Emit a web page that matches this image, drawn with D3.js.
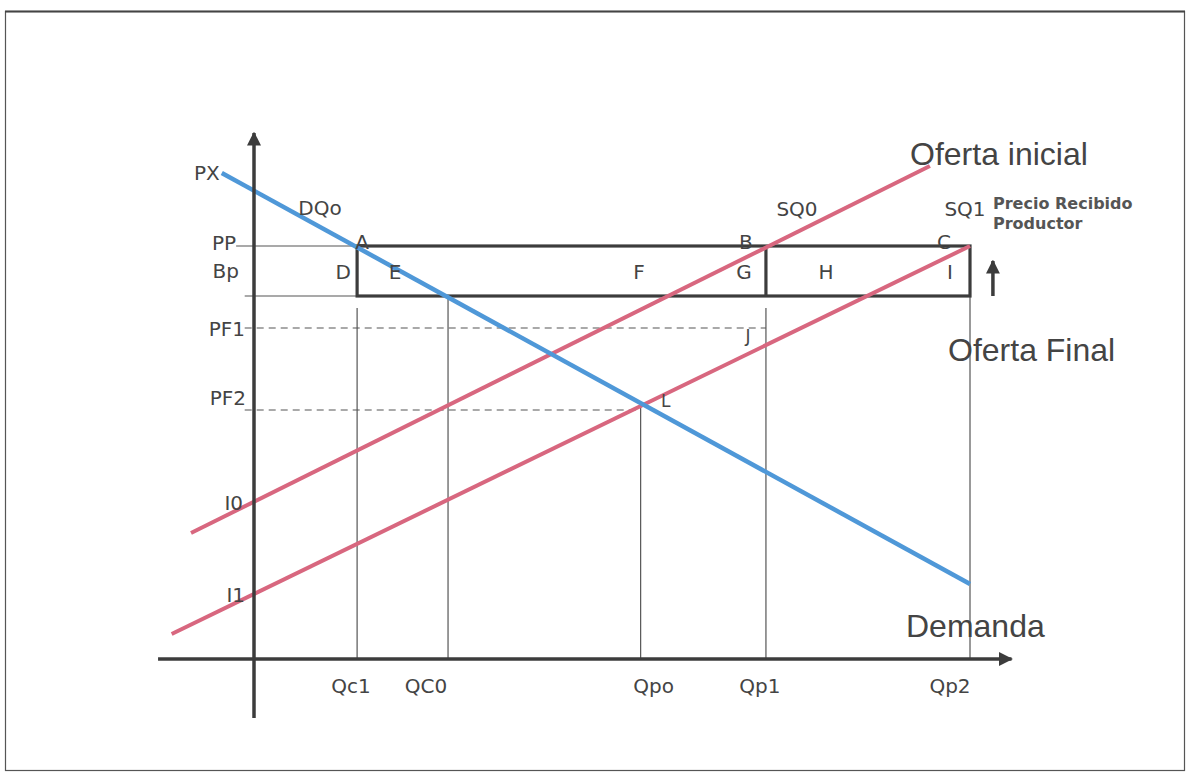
<!DOCTYPE html>
<html><head><meta charset="utf-8">
<script src="https://cdn.jsdelivr.net/npm/d3@7"></script>
<style>html,body{margin:0;padding:0;background:#fff;}svg{display:block;}</style>
</head><body>
<svg id="c" width="1189" height="774"></svg>
<script>
// ---- data (model units) ----
const qLabels = ["Qc1", "QC0", "Qpo", "Qp1", "Qp2"];
const qValues = [1.44, 2.71, 5.40, 7.15, 10];
const priceLabels = ["PP", "Pc", "PF1", "PF2", "I0", "I1", "PX"];
const priceValues = [8.26, 7.26, 6.62, 4.98, 3.14, 1.30, 9.72];
const demandPts = [[-0.45, 9.72], [10, 1.5]];
const supply0Pts = [[-0.88, 2.52], [9.44, 9.86]];
const supply1Pts = [[-1.15, 0.5], [10, 8.26]];
const areaLetters = ["D", "E", "F", "G", "H", "I"];
const cornerLetters = ["A", "B", "C"];

const P = Object.fromEntries(priceLabels.map((l, i) => [l, priceValues[i]]));
const Q = Object.fromEntries(qLabels.map((l, i) => [l, qValues[i]]));

const svg = d3.select("#c");
const x = d3.scaleLinear().domain([0, 10]).range([254, 970]);
const y = d3.scaleLinear().domain([0, 10]).range([659, 159]);
const line = d3.line().x(d => x(d[0])).y(d => y(d[1]));

const ink = "#3c3c3c", thin = "#555", txt = "#444";
const blue = "#4f98d8", red = "#d8677f";
const small = "'DejaVu Sans', Verdana, sans-serif";
const big = "'Liberation Sans', Arial, sans-serif";

// frame
svg.append("rect").attr("x", 5.5).attr("y", 11.5).attr("width", 1179).attr("height", 759)
  .attr("fill", "none").attr("stroke", "#555").attr("stroke-width", 1.2);
svg.append("line").attr("x1", 5).attr("x2", 1185).attr("y1", 11.5).attr("y2", 11.5)
  .attr("stroke", "#444").attr("stroke-width", 2.2);

const defs = svg.append("defs");
defs.append("marker").attr("id", "ah").attr("viewBox", "0 0 10 10").attr("refX", 9).attr("refY", 5)
  .attr("markerWidth", 4).attr("markerHeight", 4).attr("orient", "auto-start-reverse")
  .attr("markerUnits", "strokeWidth")
  .append("path").attr("d", "M0,0 L10,5 L0,10 z").attr("fill", ink);

// thin reference lines
const g = svg.append("g");
g.append("line").attr("x1", x(-0.25)).attr("x2", x(Q.Qc1)).attr("y1", y(P.PP)).attr("y2", y(P.PP))
  .attr("stroke", thin).attr("stroke-width", 1.2);
g.append("line").attr("x1", x(-0.13)).attr("x2", x(Q.Qp2)).attr("y1", y(P.Pc)).attr("y2", y(P.Pc))
  .attr("stroke", thin).attr("stroke-width", 1.2);
// dashed
[[P.PF1, Q.Qp1], [P.PF2, Q.Qpo]].forEach(([p, q]) => {
  g.append("line").attr("x1", x(-0.13)).attr("x2", x(q)).attr("y1", y(p)).attr("y2", y(p))
    .attr("stroke", thin).attr("stroke-width", 1.2).attr("stroke-dasharray", "7,5");
});
// verticals
const vtops = {Qc1: P.Pc - 0.24, QC0: P.Pc, Qpo: P.PF2 + 0.1, Qp1: P.Pc - 0.24, Qp2: P.Pc};
qLabels.forEach(l => {
  g.append("line").attr("x1", x(Q[l])).attr("x2", x(Q[l])).attr("y1", y(vtops[l])).attr("y2", y(0))
    .attr("stroke", thin).attr("stroke-width", 1.2);
});

// rectangle (producer price band)
const rect = svg.append("g").attr("stroke", ink).attr("stroke-width", 3.2).attr("fill", "none");
rect.append("rect").attr("x", x(Q.Qc1)).attr("y", y(P.PP))
  .attr("width", x(Q.Qp2) - x(Q.Qc1)).attr("height", y(P.Pc) - y(P.PP));
rect.append("line").attr("x1", x(Q.Qp1)).attr("x2", x(Q.Qp1)).attr("y1", y(P.PP)).attr("y2", y(P.Pc));

// curves
svg.append("path").attr("d", line(supply0Pts)).attr("stroke", red).attr("stroke-width", 4).attr("fill", "none");
svg.append("path").attr("d", line(supply1Pts)).attr("stroke", red).attr("stroke-width", 4).attr("fill", "none");
svg.append("path").attr("d", line(demandPts)).attr("stroke", blue).attr("stroke-width", 4.5).attr("fill", "none");

// axes
svg.append("line").attr("x1", x(-1.34)).attr("x2", x(10.58)).attr("y1", y(0)).attr("y2", y(0))
  .attr("stroke", ink).attr("stroke-width", 3.5).attr("marker-end", "url(#ah)");
svg.append("line").attr("x1", x(0)).attr("x2", x(0)).attr("y1", y(-1.18)).attr("y2", y(10.52))
  .attr("stroke", ink).attr("stroke-width", 3.5).attr("marker-end", "url(#ah)");

// up arrow
svg.append("line").attr("x1", x(10.32)).attr("x2", x(10.32)).attr("y1", y(P.Pc)).attr("y2", y(P.PP - 0.3))
  .attr("stroke", ink).attr("stroke-width", 3.5).attr("marker-end", "url(#ah)");

// text helper
function t(s, px, py, opt = {}) {
  return svg.append("text").attr("x", px).attr("y", py).text(s)
    .attr("font-family", opt.ff || small).attr("font-size", opt.fs || 20)
    .attr("fill", opt.fill || txt).attr("text-anchor", opt.a || "start")
    .attr("font-weight", opt.fw || "normal");
}

// price-axis labels
t("PX", x(demandPts[0][0]) - 2, y(P.PX) + 7, {a: "end"});
t("PP", x(0) - 18, y(P.PP) + 4, {a: "end"});
t("Bp", x(0) - 15, y((P.PP + P.Pc) / 2) + 7, {a: "end"});
t("PF1", x(0) - 9, y(P.PF1) + 8, {a: "end"});
t("PF2", x(0) - 8, y(P.PF2) - 5, {a: "end"});
t("I0", x(0) - 11, y(P.I0) + 8, {a: "end"});
t("I1", x(0) - 9, y(P.I1) + 8, {a: "end"});

// quantity labels
const qOff = {Qc1: -6, QC0: -22, Qpo: 13, Qp1: -6, Qp2: -20};
qLabels.forEach(l => t(l, x(Q[l]) + qOff[l], y(0) + 34, {a: "middle"}));

// area letters
const mid = y((P.PP + P.Pc) / 2) + 8;
const areaX = [x(Q.Qc1) - 14, x(Q.Qc1) + 38, 639, x(Q.Qp1) - 22, 826, 950];
areaLetters.forEach((l, i) => t(l, areaX[i], mid, {a: "middle"}));
const cornerX = [x(Q.Qc1) + 5, x(Q.Qp1) - 20, x(Q.Qp2) - 26];
cornerLetters.forEach((l, i) => t(l, cornerX[i], y(P.PP) + 3, {a: "middle"}));
t("J", x(Q.Qp1) - 18, y(P.PF1) + 14, {a: "middle", fs: 17});
t("L", x(Q.Qpo) + 25, y(P.PF2) - 3, {a: "middle", fs: 17});

// curve labels
t("DQo", 320, 215, {a: "middle"});
t("SQ0", 797, 216, {a: "middle"});
t("SQ1", 965, 216, {a: "middle"});
t("Precio Recibido", 993, 209, {fs: 16, fw: "bold", fill: "#555"});
t("Productor", 993, 229, {fs: 16, fw: "bold", fill: "#555"});
t("Oferta inicial", 910, 165, {ff: big, fs: 32});
t("Oferta Final", 948, 361, {ff: big, fs: 32});
t("Demanda", 906, 637, {ff: big, fs: 32});
</script>
</body></html>
